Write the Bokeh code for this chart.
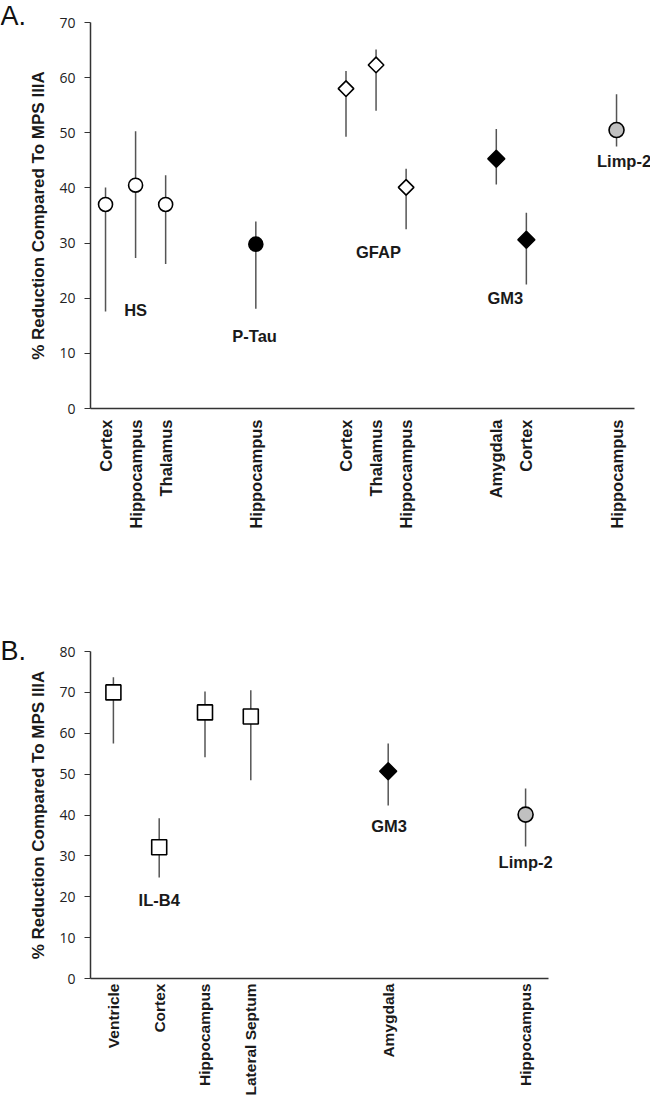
import math
from bokeh.plotting import figure
from bokeh.layouts import column, row
from bokeh.models import FixedTicker, LabelSet, Range1d, ColumnDataSource
from bokeh.core.properties import value
from bokeh.embed import file_html
from bokeh.resources import INLINE

# ---------------- Panel A data ----------------
a_pos = [1, 2, 3, 6, 9, 10, 11, 14, 15, 18]
a_regions = ["Cortex", "Hippocampus", "Thalamus", "Hippocampus", "Cortex",
             "Thalamus", "Hippocampus", "Amygdala", "Cortex", "Hippocampus"]
a_group = ["HS", "HS", "HS", "P-Tau", "GFAP", "GFAP", "GFAP", "GM3", "GM3", "Limp-2"]
a_mean = [37.0, 40.5, 37.0, 29.8, 58.0, 62.3, 40.1, 45.3, 30.6, 50.5]
a_upper = [40.1, 50.3, 42.3, 33.9, 61.2, 65.1, 43.5, 50.7, 35.5, 57.0]
a_lower = [17.6, 27.3, 26.2, 18.1, 49.3, 54.0, 32.5, 40.6, 22.5, 47.5]
a_label_text = ["HS", "P-Tau", "GFAP", "GM3", "Limp-2"]
a_label_x = [2.0, 5.96, 10.08, 14.3, 18.25]
a_label_y = [17.8, 13.2, 28.3, 20.1, 44.8]
a_yticks = [0, 10, 20, 30, 40, 50, 60, 70]

# ---------------- Panel B data ----------------
b_pos = [1, 2, 3, 4, 7, 10]
b_regions = ["Ventricle", "Cortex", "Hippocampus", "Lateral Septum", "Amygdala", "Hippocampus"]
b_group = ["IL-B4", "IL-B4", "IL-B4", "IL-B4", "GM3", "Limp-2"]
b_mean = [70.0, 32.1, 65.1, 64.1, 50.7, 40.1]
b_upper = [73.7, 39.2, 70.2, 70.5, 57.5, 46.5]
b_lower = [57.5, 24.7, 54.1, 48.5, 42.3, 32.3]
b_label_text = ["IL-B4", "GM3", "Limp-2"]
b_label_x = [2.0, 7.02, 10.0]
b_label_y = [19.1, 37.2, 28.6]
b_yticks = [0, 10, 20, 30, 40, 50, 60, 70, 80]

panel_letters = ["A.", "B."]

STYLE = {
    "HS":     dict(marker="circle", size=14, fill_color="white", angle=0.0),
    "P-Tau":  dict(marker="circle", size=14, fill_color="black", angle=0.0),
    "GFAP":   dict(marker="square", size=11, fill_color="white", angle=math.pi / 4),
    "GM3":    dict(marker="square", size=12, fill_color="black", angle=math.pi / 4),
    "Limp-2": dict(marker="circle", size=15, fill_color="#c0c0c0", angle=0.0),
    "IL-B4":  dict(marker="square", size=15, fill_color="white", angle=0.0),
}

AXIS_COL = "#333333"
LBL_FONT = "Liberation Sans"


def make_panel(pos, regions, groups, mean, upper, lower, ltext, lx, ly, yticks,
               xaxis_end, xend, frame_w, frame_h, left, top, bottom, xlab_size, xlab_standoff):
    p = figure(output_backend="svg", toolbar_location=None,
               frame_width=frame_w, frame_height=frame_h,
               x_range=Range1d(0.5, xend), y_range=Range1d(yticks[0], yticks[-1]),
               min_border_left=left, min_border_top=top, min_border_bottom=bottom,
               min_border_right=0)
    p.outline_line_color = None
    p.xgrid.visible = False
    p.ygrid.visible = False
    p.background_fill_color = "white"
    p.border_fill_color = "white"

    p.segment(x0=pos, y0=lower, x1=pos, y1=upper, line_color="#555555", line_width=1.5)

    for g in dict.fromkeys(groups):
        idx = [i for i, gg in enumerate(groups) if gg == g]
        st = STYLE[g]
        src = ColumnDataSource(dict(x=[pos[i] for i in idx], y=[mean[i] for i in idx]))
        p.scatter(x="x", y="y", source=src, marker=st["marker"], size=st["size"],
                  fill_color=st["fill_color"], line_color="black", line_width=1.6,
                  angle=st["angle"])

    lsrc = ColumnDataSource(dict(x=lx, y=ly, t=ltext))
    p.add_layout(LabelSet(x="x", y="y", text="t", source=lsrc,
                          text_align="center", text_baseline="middle",
                          text_font=value(LBL_FONT), text_font_style="bold",
                          text_font_size="16.5px", text_color="#1a1a1a"))

    xa = p.xaxis[0]
    xa.bounds = (0.5, xaxis_end)
    xa.ticker = FixedTicker(ticks=pos)
    xa.major_label_overrides = {pp: r for pp, r in zip(pos, regions)}
    xa.major_label_orientation = math.pi / 2
    xa.major_label_text_font = LBL_FONT
    xa.major_label_text_font_style = "bold"
    xa.major_label_text_font_size = xlab_size
    xa.major_label_text_color = "#1a1a1a"
    xa.major_label_standoff = xlab_standoff
    xa.major_tick_out = 0
    xa.major_tick_in = 0
    xa.minor_tick_out = 0
    xa.minor_tick_in = 0
    xa.axis_line_color = AXIS_COL
    xa.axis_line_width = 1.5

    ya = p.yaxis[0]
    ya.ticker = FixedTicker(ticks=yticks)
    ya.major_label_text_font = "Open Sans"
    ya.major_label_text_font_size = "14px"
    ya.major_label_text_color = "#222222"
    ya.major_label_standoff = 9
    ya.major_tick_out = 6
    ya.major_tick_in = 0
    ya.minor_tick_out = 0
    ya.minor_tick_in = 0
    ya.major_tick_line_color = AXIS_COL
    ya.major_tick_line_width = 1.2
    ya.axis_line_color = AXIS_COL
    ya.axis_line_width = 1.5
    ya.axis_label = "% Reduction Compared To MPS IIIA"
    ya.axis_label_text_font = LBL_FONT
    ya.axis_label_text_font_style = "bold"
    ya.axis_label_text_font_size = "17px"
    ya.axis_label_text_color = "#1a1a1a"
    ya.axis_label_standoff = 8
    return p


pA = make_panel(a_pos, a_regions, a_group, a_mean, a_upper, a_lower,
                a_label_text, a_label_x, a_label_y, a_yticks,
                xaxis_end=18.6, xend=19.13, frame_w=560, frame_h=386,
                left=61, top=22, bottom=144, xlab_size="16.5px", xlab_standoff=11)

pB = make_panel(b_pos, b_regions, b_group, b_mean, b_upper, b_lower,
                b_label_text, b_label_x, b_label_y, b_yticks,
                xaxis_end=10.5, xend=10.915, frame_w=477, frame_h=327,
                left=64, top=99, bottom=116, xlab_size="15.5px", xlab_standoff=5)

# narrow strip on the left carrying the panel letters
TOTAL_H = 552 + 542
strip = figure(output_backend="svg", toolbar_location=None, width=26, height=TOTAL_H,
               x_range=Range1d(0, 26), y_range=Range1d(TOTAL_H, 0),
               x_axis_type=None, y_axis_type=None, min_border=0)
strip.outline_line_color = None
strip.xgrid.visible = False
strip.ygrid.visible = False
strip.text(x=[0, 0], y=[0, 635], text=panel_letters, text_align="left", text_baseline="top",
           text_font=value(LBL_FONT), text_font_size="27px", text_color="#111111")

layout = row(strip, column(pA, pB, spacing=0), spacing=0)
open("out.html", "w").write(file_html(layout, INLINE))
